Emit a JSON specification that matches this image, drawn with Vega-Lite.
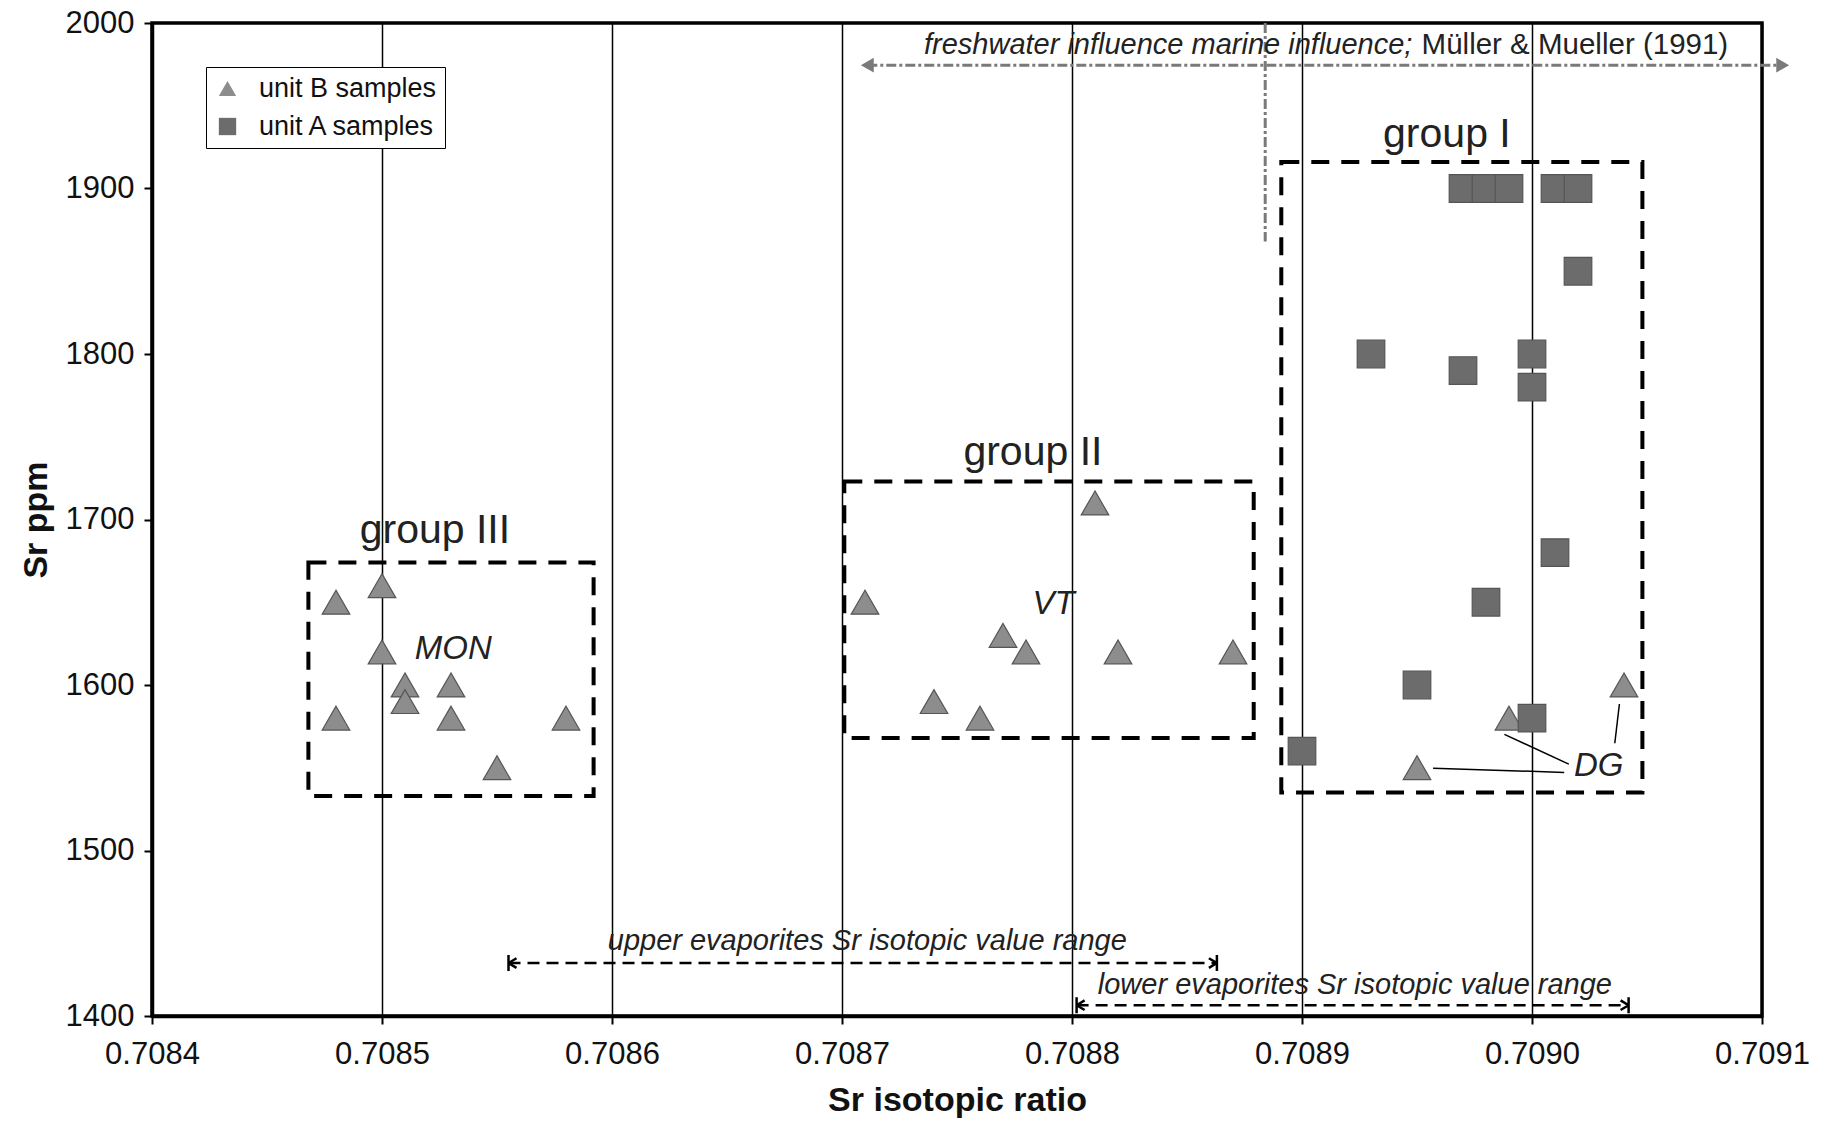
{
  "$schema": "https://vega.github.io/schema/vega-lite/v6.json",
  "width": 1610,
  "height": 993,
  "autosize": "none",
  "padding": {"left": 152, "top": 23, "right": 71, "bottom": 106},
  "background": "white",
  "config": {
    "font": "Liberation Sans",
    "view": {"stroke": "black", "strokeWidth": 3.5},
    "legend": {
      "orient": "none", "legendX": 54, "legendY": 44,
      "fillColor": "white", "strokeColor": "black", "padding": 8,
      "labelFontSize": 27, "labelColor": "#111", "labelLimit": 0, "symbolSize": 300,
      "labelOffset": 18, "rowPadding": 10,
      "symbolStrokeColor": "#555", "symbolStrokeWidth": 1
    }
  },
  "datasets": {
    "samples": [
      {"x": 0.70848, "y": 1650, "unit": "unit B samples"},
      {"x": 0.70850, "y": 1660, "unit": "unit B samples"},
      {"x": 0.70850, "y": 1620, "unit": "unit B samples"},
      {"x": 0.70851, "y": 1600, "unit": "unit B samples"},
      {"x": 0.70851, "y": 1590, "unit": "unit B samples"},
      {"x": 0.70853, "y": 1600, "unit": "unit B samples"},
      {"x": 0.70853, "y": 1580, "unit": "unit B samples"},
      {"x": 0.70848, "y": 1580, "unit": "unit B samples"},
      {"x": 0.70855, "y": 1550, "unit": "unit B samples"},
      {"x": 0.70858, "y": 1580, "unit": "unit B samples"},
      {"x": 0.70871, "y": 1650, "unit": "unit B samples"},
      {"x": 0.70874, "y": 1590, "unit": "unit B samples"},
      {"x": 0.70876, "y": 1580, "unit": "unit B samples"},
      {"x": 0.70877, "y": 1630, "unit": "unit B samples"},
      {"x": 0.70878, "y": 1620, "unit": "unit B samples"},
      {"x": 0.70881, "y": 1710, "unit": "unit B samples"},
      {"x": 0.70882, "y": 1620, "unit": "unit B samples"},
      {"x": 0.70887, "y": 1620, "unit": "unit B samples"},
      {"x": 0.70895, "y": 1550, "unit": "unit B samples"},
      {"x": 0.70899, "y": 1580, "unit": "unit B samples"},
      {"x": 0.70904, "y": 1600, "unit": "unit B samples"},
      {"x": 0.70890, "y": 1560, "unit": "unit A samples"},
      {"x": 0.70893, "y": 1800, "unit": "unit A samples"},
      {"x": 0.70895, "y": 1600, "unit": "unit A samples"},
      {"x": 0.70897, "y": 1790, "unit": "unit A samples"},
      {"x": 0.70898, "y": 1650, "unit": "unit A samples"},
      {"x": 0.70900, "y": 1800, "unit": "unit A samples"},
      {"x": 0.70900, "y": 1780, "unit": "unit A samples"},
      {"x": 0.70900, "y": 1580, "unit": "unit A samples"},
      {"x": 0.70901, "y": 1680, "unit": "unit A samples"},
      {"x": 0.70902, "y": 1850, "unit": "unit A samples"},
      {"x": 0.70897, "y": 1900, "unit": "unit A samples"},
      {"x": 0.70898, "y": 1900, "unit": "unit A samples"},
      {"x": 0.70899, "y": 1900, "unit": "unit A samples"},
      {"x": 0.70901, "y": 1900, "unit": "unit A samples"},
      {"x": 0.70902, "y": 1900, "unit": "unit A samples"}
    ],
    "boxes": [
      {"x": 0.708468, "x2": 0.708592, "y": 1674, "y2": 1533},
      {"x": 0.708701, "x2": 0.708879, "y": 1723, "y2": 1568},
      {"x": 0.708891, "x2": 0.709048, "y": 1916, "y2": 1535}
    ],
    "topArrow": [{"x": 0.708711, "x2": 0.709109, "y": 1974.5}],
    "bottomArrows": [
      {"x": 0.708555, "x2": 0.708863, "y": 1432},
      {"x": 0.708802, "x2": 0.709042, "y": 1406.5}
    ],
    "dgLines": [
      {"x": 0.708957, "x2": 0.709014, "y": 1549.7, "y2": 1547.2},
      {"x": 0.708988, "x2": 0.709016, "y": 1570.2, "y2": 1552.2},
      {"x": 0.709038, "x2": 0.709036, "y": 1588.5, "y2": 1564.8}
    ]
  },
  "encoding": {
    "x": {
      "field": "x", "type": "quantitative", "title": "Sr isotopic ratio",
      "scale": {"domain": [0.7084, 0.7091], "nice": false, "zero": false},
      "axis": {
        "values": [0.7084, 0.7085, 0.7086, 0.7087, 0.7088, 0.7089, 0.709, 0.7091],
        "format": ".4f", "grid": true, "gridColor": "black", "gridWidth": 1.5, "gridOpacity": 1,
        "labelFontSize": 31, "labelColor": "#111", "labelFlush": false, "labelOverlap": false,
        "tickSize": 8, "tickWidth": 2, "tickColor": "black",
        "domainColor": "black", "domainWidth": 3.5, "labelPadding": 15,
        "titleFontSize": 34, "titleFontWeight": "bold", "titleColor": "#111", "titlePadding": 14
      }
    },
    "y": {
      "field": "y", "type": "quantitative", "title": "Sr ppm",
      "scale": {"domain": [1400, 2000], "nice": false, "zero": false},
      "axis": {
        "values": [1400, 1500, 1600, 1700, 1800, 1900, 2000],
        "format": "d",
        "grid": false, "labelFontSize": 31, "labelColor": "#111", "labelFlush": false, "labelOverlap": false,
        "tickSize": 8, "tickWidth": 2, "tickColor": "black",
        "domainColor": "black", "domainWidth": 3.5, "labelPadding": 10,
        "titleFontSize": 34, "titleFontWeight": "bold", "titleColor": "#111", "titlePadding": 12
      }
    }
  },
  "layer": [
    {
      "data": {"name": "boxes"},
      "mark": {"type": "rect", "filled": false, "stroke": "black", "strokeWidth": 4, "strokeDash": [18, 12]},
      "encoding": {"x2": {"field": "x2"}, "y2": {"field": "y2"}}
    },
    {
      "data": {"values": [{"x": 0.708884, "y": 2000, "y2": 1868}]},
      "mark": {"type": "rule", "color": "#7a7a7a", "strokeWidth": 3, "strokeDash": [10, 3, 3, 3]},
      "encoding": {"y2": {"field": "y2"}}
    },
    {
      "data": {"name": "topArrow"},
      "mark": {"type": "rule", "color": "#7a7a7a", "strokeWidth": 3, "strokeDash": [10, 3, 3, 3]},
      "encoding": {"x2": {"field": "x2"}}
    },
    {
      "data": {"name": "topArrow"},
      "mark": {"type": "point", "shape": "triangle-left", "filled": true, "color": "#7a7a7a", "size": 220, "opacity": 1}
    },
    {
      "data": {"name": "topArrow"},
      "mark": {"type": "point", "shape": "triangle-right", "filled": true, "color": "#7a7a7a", "size": 220, "opacity": 1},
      "encoding": {"x": {"field": "x2", "type": "quantitative", "title": "Sr isotopic ratio"}}
    },
    {
      "data": {"name": "bottomArrows"},
      "mark": {"type": "rule", "color": "black", "strokeWidth": 2.5, "strokeDash": [12, 7]},
      "encoding": {"x2": {"field": "x2"}}
    },
    {
      "data": {"name": "bottomArrows"},
      "mark": {"type": "point", "shape": "M0,-1L0,1M0,0L1,-0.6M0,0L1,0.6", "filled": false, "color": "black", "strokeWidth": 2.5, "size": 256, "opacity": 1}
    },
    {
      "data": {"name": "bottomArrows"},
      "mark": {"type": "point", "shape": "M0,-1L0,1M0,0L-1,-0.6M0,0L-1,0.6", "filled": false, "color": "black", "strokeWidth": 2.5, "size": 256, "opacity": 1},
      "encoding": {"x": {"field": "x2", "type": "quantitative", "title": "Sr isotopic ratio"}}
    },
    {
      "data": {"name": "dgLines"},
      "mark": {"type": "rule", "color": "black", "strokeWidth": 1.5},
      "encoding": {"x2": {"field": "x2"}, "y2": {"field": "y2"}}
    },
    {
      "data": {"name": "samples"},
      "mark": {"type": "point", "filled": true, "size": 760, "stroke": "#555", "strokeWidth": 1.2, "opacity": 1},
      "encoding": {
        "shape": {
          "field": "unit", "type": "nominal",
          "scale": {"domain": ["unit B samples", "unit A samples"], "range": ["triangle-up", "square"]},
          "legend": {"title": null}
        },
        "fill": {
          "field": "unit", "type": "nominal",
          "scale": {"domain": ["unit B samples", "unit A samples"], "range": ["#8d8d8d", "#6c6c6c"]},
          "legend": {"title": null}
        }
      }
    },
    {
      "data": {"values": [
        {"x": 0.708523, "y": 1686, "label": "group III"},
        {"x": 0.708783, "y": 1733, "label": "group II"},
        {"x": 0.708963, "y": 1925, "label": "group I"}
      ]},
      "mark": {"type": "text", "fontSize": 41, "align": "center", "baseline": "alphabetic", "color": "#222"},
      "encoding": {"text": {"field": "label"}}
    },
    {
      "data": {"values": [
        {"x": 0.708531, "y": 1616, "label": "MON"},
        {"x": 0.708792, "y": 1643, "label": "VT"},
        {"x": 0.709029, "y": 1545, "label": "DG"}
      ]},
      "mark": {"type": "text", "fontSize": 33, "fontStyle": "italic", "align": "center", "baseline": "alphabetic", "color": "#222"},
      "encoding": {"text": {"field": "label"}}
    },
    {
      "data": {"values": [
        {"x": 0.708711, "y": 1440, "label": "upper evaporites Sr isotopic value range"},
        {"x": 0.708923, "y": 1413, "label": "lower evaporites Sr isotopic value range"}
      ]},
      "mark": {"type": "text", "fontSize": 29, "fontStyle": "italic", "align": "center", "baseline": "alphabetic", "color": "#222"},
      "encoding": {"text": {"field": "label"}}
    },
    {
      "data": {"values": [
        {"x": 0.708948, "y": 1981, "label": "freshwater influence marine influence;"}
      ]},
      "mark": {"type": "text", "fontSize": 29, "fontStyle": "italic", "align": "right", "baseline": "alphabetic", "color": "#222"},
      "encoding": {"text": {"field": "label"}}
    },
    {
      "data": {"values": [
        {"x": 0.708952, "y": 1981, "label": "Müller & Mueller (1991)"}
      ]},
      "mark": {"type": "text", "fontSize": 29.5, "align": "left", "baseline": "alphabetic", "color": "#222"},
      "encoding": {"text": {"field": "label"}}
    }
  ]
}
